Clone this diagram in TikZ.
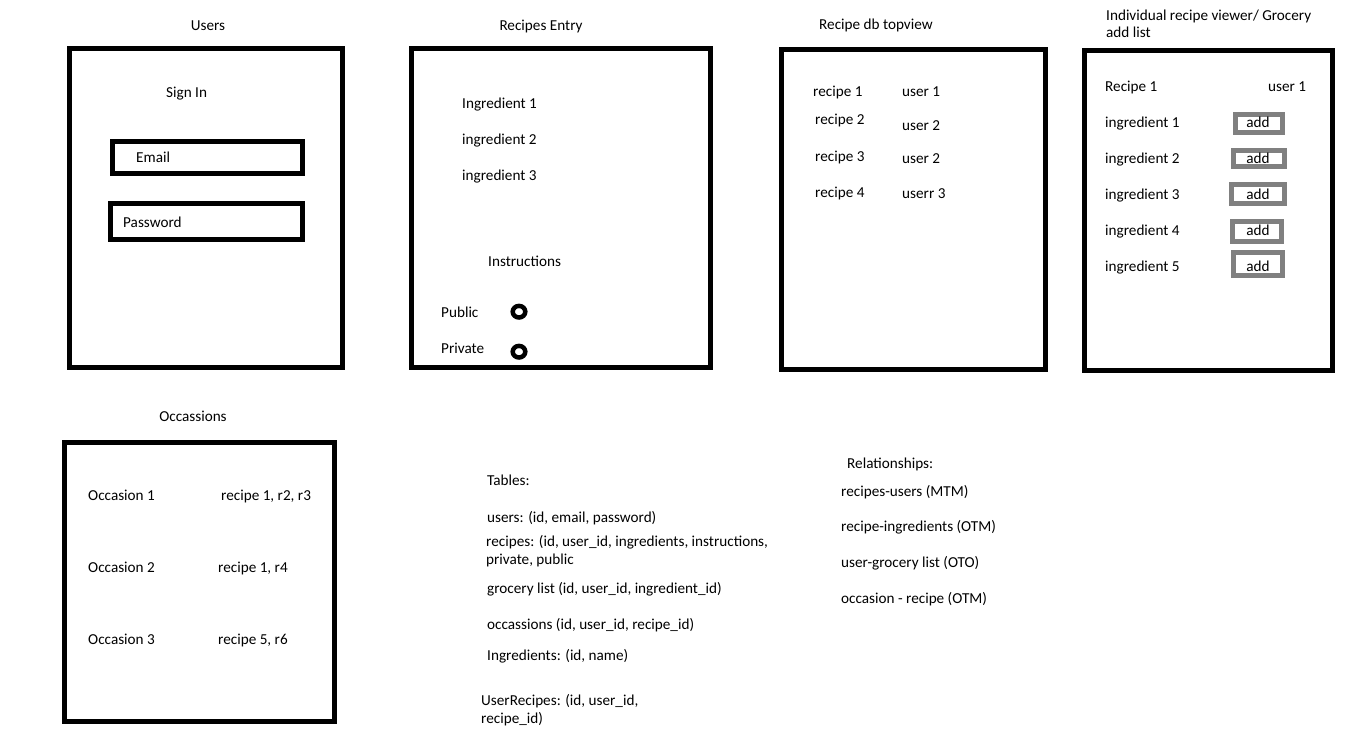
\documentclass[tikz,border=0pt]{standalone}
\usepackage{fontspec}
\setmainfont{Carlito}
\newcommand{\fs}{\fontsize{15.2}{17}\selectfont}
\tikzset{
  frame/.style={draw=black, line width=5pt},
  addbox/.style={draw=black!50, line width=5pt},
  txt/.style={inner sep=0pt, anchor=base west, font=\fs, text=black},
  ctxt/.style={inner sep=0pt, anchor=base, font=\fs, text=black},
  radio/.style={draw=black, line width=4.5pt}
}
\begin{document}
\begin{tikzpicture}[x=1pt, y=-1pt]
\useasboundingbox[fill=white] (0,0) rectangle (1354,745);

% ---------- Users ----------
\node[ctxt] (tUsers) at (208,30) {Users};
\draw[frame] (69.5,48.5) rectangle (342.5,367.5);
\node[txt] (signin) at (166,97) {Sign In};
\draw[frame] (112.5,141.5) rectangle (302.5,173.5);
\node[txt] (email) at (136,162) {Email};
\draw[frame] (110.5,203.5) rectangle (302.5,239.5);
\node[txt] (pwd) at (123,227) {Password};

% ---------- Recipes Entry ----------
\node[ctxt] (tEntry) at (541,30) {Recipes Entry};
\draw[frame] (411.5,48.5) rectangle (710.5,367.5);
\node[txt] (ing1) at (462,108) {Ingredient 1};
\node[txt] (ing2) at (462,144) {ingredient 2};
\node[txt] (ing3) at (462,180) {ingredient 3};
\node[txt] (instr) at (488,266) {Instructions};
\node[txt] (public) at (441,317) {Public};
\node[txt] (private) at (441,353) {Private};
\draw[radio] (519,311.7) ellipse [x radius=6.3, y radius=5.8];
\draw[radio] (519,351.7) ellipse [x radius=6.3, y radius=5.8];

% ---------- Recipe db topview ----------
\node[txt] (tDb) at (819,29) {Recipe db topview};
\draw[frame] (781.5,49.5) rectangle (1045.5,369.5);
\node[txt] (r1) at (813,96) {recipe 1};
\node[txt] (r2) at (815,124) {recipe 2};
\node[txt] (r3) at (815,161) {recipe 3};
\node[txt] (r4) at (815,197) {recipe 4};
\node[txt] (u1) at (902,96) {user 1};
\node[txt] (u2) at (902,130) {user 2};
\node[txt] (u3) at (902,163) {user 2};
\node[txt] (u4) at (902,198) {userr 3};

% ---------- Individual recipe viewer ----------
\node[txt] (tInd1) at (1106,20) {Individual recipe viewer/ Grocery};
\node[txt] (tInd2) at (1106,37) {add list};
\draw[frame] (1084.5,50.5) rectangle (1332.5,370.5);
\node[txt] (rec1) at (1105,91) {Recipe 1};
\node[txt] (usr1) at (1268,91) {user 1};
\node[txt] (ii1) at (1105,127) {ingredient 1};
\node[txt] (ii2) at (1105,163) {ingredient 2};
\node[txt] (ii3) at (1105,199) {ingredient 3};
\node[txt] (ii4) at (1105,235) {ingredient 4};
\node[txt] (ii5) at (1105,271) {ingredient 5};
\draw[addbox] (1235.5,114.5) rectangle (1282.5,132.5);
\draw[addbox] (1233.5,150.5) rectangle (1284.5,166.5);
\draw[addbox] (1231.5,184.5) rectangle (1284.5,203.5);
\draw[addbox] (1232.5,221.5) rectangle (1281.5,241.5);
\draw[addbox] (1233.5,252.5) rectangle (1282.5,275.5);
\node[ctxt] (add1) at (1258,127) {add};
\node[ctxt] (add2) at (1258,163) {add};
\node[ctxt] (add3) at (1258,199) {add};
\node[ctxt] (add4) at (1258,235) {add};
\node[ctxt] (add5) at (1258,271) {add};

% ---------- Occassions ----------
\node[ctxt] (tOcc) at (193,421) {Occassions};
\draw[frame] (64.5,442.5) rectangle (334.5,721.5);
\node[txt] (o1) at (88,500) {Occasion 1};
\node[txt] (o2) at (88,572) {Occasion 2};
\node[txt] (o3) at (88,644) {Occasion 3};
\node[txt] (or1) at (221,500) {recipe 1, r2, r3};
\node[txt] (or2) at (218,572) {recipe 1, r4};
\node[txt] (or3) at (218,644) {recipe 5, r6};

% ---------- Tables ----------
\node[txt] (tables) at (487,485) {Tables:};
\node[txt] (tu) at (487,522) {users: (id, email, password)};
\node[txt] (tr1) at (486,546) {recipes: (id, user\_id, ingredients, instructions,};
\node[txt] (tr2) at (486,564) {private, public};
\node[txt] (tg) at (487,593) {grocery list (id, user\_id, ingredient\_id)};
\node[txt] (to) at (487,629) {occassions (id, user\_id, recipe\_id)};
\node[txt] (ti) at (487,660) {Ingredients: (id, name)};
\node[txt] (tur1) at (481,705) {UserRecipes: (id, user\_id,};
\node[txt] (tur2) at (481,723) {recipe\_id)};

% ---------- Relationships ----------
\node[txt] (rel) at (847,468) {Relationships:};
\node[txt] (rel1) at (841,496) {recipes-users (MTM)};
\node[txt] (rel2) at (841,531) {recipe-ingredients (OTM)};
\node[txt] (rel3) at (841,567) {user-grocery list (OTO)};
\node[txt] (rel4) at (841,603) {occasion - recipe (OTM)};
\end{tikzpicture}
\end{document}
